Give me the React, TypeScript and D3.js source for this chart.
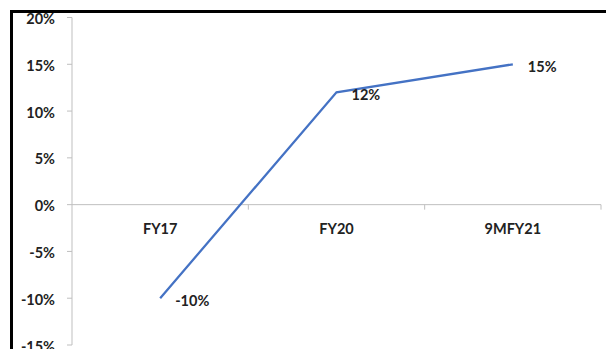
import React from "react";
import * as d3 from "d3";

const categories = ["FY17", "FY20", "9MFY21"];
const values = [-10, 12, 15];
const yTicks = [-15, -10, -5, 0, 5, 10, 15, 20];

const W = 606;
const H = 349;

export default function App() {
  const x = d3.scaleBand<string>().domain(categories).range([72, 601]);
  const y = d3.scaleLinear().domain([-15, 20]).range([345, 17.5]);
  const cx = (c: string) => (x(c) as number) + x.bandwidth() / 2;
  const line = d3
    .line<number>()
    .x((_, i) => cx(categories[i]))
    .y((v) => y(v));
  const font = "Lato, 'Open Sans', sans-serif";
  const fs = 14.5;
  const tickXs = [...categories.map((c) => x(c) as number).slice(1), 601];
  return (
    <svg
      width={W}
      height={H}
      style={{ position: "absolute", left: 0, top: 0, background: "#fff" }}
      fontFamily={font}
    >
      <rect x={0} y={0} width={W} height={H} fill="#fff" />
      {/* y axis */}
      <line x1={72} x2={72} y1={y(20)} y2={y(-15)} stroke="#bfbfbf" strokeWidth={1} />
      {yTicks.map((t) => (
        <g key={t}>
          <line x1={67} x2={72} y1={y(t)} y2={y(t)} stroke="#bfbfbf" />
          <text
            x={55}
            y={y(t) + 1}
            textAnchor="end"
            dominantBaseline="central"
            fontSize={fs}
            fontWeight="bold"
            fill="#222"
          >
            {t}%
          </text>
        </g>
      ))}
      {/* x axis */}
      <line x1={72} x2={601} y1={y(0)} y2={y(0)} stroke="#bfbfbf" />
      {tickXs.map((tx, i) => (
        <line key={i} x1={tx} x2={tx} y1={y(0)} y2={y(0) + 5} stroke="#bfbfbf" />
      ))}
      {categories.map((c) => (
        <text
          key={c}
          x={cx(c)}
          y={228}
          textAnchor="middle"
          dominantBaseline="central"
          fontSize={fs}
          fontWeight="bold"
          fill="#222"
        >
          {c}
        </text>
      ))}
      <path d={line(values) || ""} fill="none" stroke="#4472C4" strokeWidth={2.25} />
      {values.map((v, i) => (
        <text
          key={i}
          x={cx(categories[i]) + 15}
          y={y(v) + 2}
          dominantBaseline="central"
          fontSize={fs}
          fontWeight="bold"
          fill="#222"
        >
          {v}%
        </text>
      ))}
      {/* frame */}
      <line x1={11.5} x2={W} y1={11.5} y2={11.5} stroke="#000" strokeWidth={3} />
      <line x1={11.5} x2={11.5} y1={10} y2={H} stroke="#000" strokeWidth={3} />
    </svg>
  );
}
